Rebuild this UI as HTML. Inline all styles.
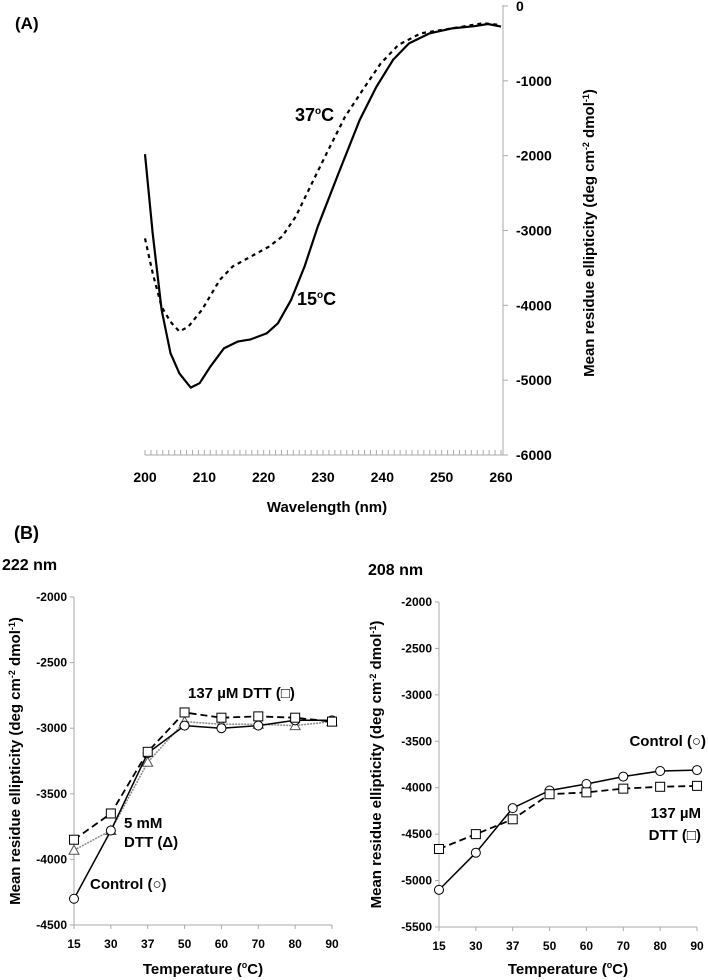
<!DOCTYPE html>
<html><head><meta charset="utf-8"><style>
html,body{margin:0;padding:0;background:#fff;}
svg{display:block;font-family:"Liberation Sans",Arial,sans-serif;font-weight:bold;}
</style></head><body>
<svg id="fig" width="708" height="980" viewBox="0 0 708 980" xmlns="http://www.w3.org/2000/svg">
<g id="pa"></g>
<g id="pb1"></g>
<g id="pb2"></g>
</svg>
<script>
// Panel A data
const wl15 = [200,201.3,202.8,204.3,205.8,207.7,209.2,211,213.3,215.6,217.8,220.5,222.4,224.6,226.9,229.1,232.6,236.2,239,241.8,244.5,248,251.7,255.5,257.8,260];
const mre15 = [-1980,-3040,-4060,-4640,-4910,-5100,-5040,-4820,-4575,-4485,-4455,-4375,-4240,-3930,-3480,-2950,-2240,-1520,-1080,-720,-500,-365,-300,-270,-240,-275];
const wl37 = [200,201.3,202.8,204.3,205.8,207.3,209.6,212.6,214.8,217.8,220.9,223.1,225.4,228.4,230.6,233.7,236.7,239.7,242.7,246.5,251.7,257,260];
const mre37 = [-3105,-3570,-4020,-4220,-4350,-4285,-4060,-3660,-3480,-3350,-3215,-3080,-2815,-2325,-1970,-1480,-1120,-770,-520,-365,-300,-230,-255];
const aXTicks = [200,210,220,230,240,250,260];
const aYTicks = [0,-1000,-2000,-3000,-4000,-5000,-6000];
// Panel B data
const temps = ["15","30","37","50","60","70","80","90"];
const b222Control = [-4300,-3780,-3190,-2980,-3000,-2980,-2940,-2940];
const b222Dtt137 = [-3850,-3650,-3180,-2880,-2920,-2910,-2920,-2950];
const b222Dtt5 = [-3930,-3780,-3260,-2950,-2970,-2970,-2980,-2950];
const b208Control = [-5100,-4700,-4220,-4030,-3960,-3880,-3820,-3810];
const b208Dtt137 = [-4660,-4500,-4340,-4070,-4050,-4010,-3990,-3980];
const b222YTicks = [-2000,-2500,-3000,-3500,-4000,-4500];
const b208YTicks = [-2000,-2500,-3000,-3500,-4000,-4500,-5000,-5500];

const NS="http://www.w3.org/2000/svg";
function mk(parent,tag,attrs,text){const e=document.createElementNS(NS,tag);for(const k in attrs)e.setAttribute(k,attrs[k]);if(text!==undefined)e.textContent=text;parent.appendChild(e);return e;}

// ---------- Panel A ----------
(function(){
  const g=document.getElementById('pa');
  const x=v=>145+(v-200)*(501-145)/60;
  const y=v=>6+(-v)*(455-6)/6000;
  const t=mk(g,'text',{x:15,y:29,'font-size':17},'(A)');
  
  
  const ax=mk(g,'line',{x1:145,y1:455,x2:503,y2:455,stroke:'#aaa','stroke-width':1});
  
  
  for(let w=200;w<=260;w++){
    const tk=mk(g,'line',{x1:x(w),y1:455,x2:x(w),y2:450,stroke:'#aaa','stroke-width':1});
    
    
  }
  const ay=mk(g,'line',{x1:503,y1:5,x2:503,y2:455,stroke:'#aaa','stroke-width':1});
  
  
  aXTicks.forEach(v=>{
    const l=mk(g,'text',{x:x(v),y:482,'font-size':14,'text-anchor':'middle'},String(v));
    
    
  });
  aYTicks.forEach(v=>{
    const tk=mk(g,'line',{x1:503,y1:y(v),x2:508,y2:y(v),stroke:'#aaa'});
    
    
    const l=mk(g,'text',{x:516,y:y(v)+5,'font-size':14},String(v));
    
    
  });
  const xt=mk(g,'text',{x:327,y:512,'font-size':15,'text-anchor':'middle'},'Wavelength (nm)');
  
  
  const yt=mk(g,'text',{x:0,y:0,'font-size':15,'text-anchor':'middle',transform:'translate(594,233) rotate(-90)'});
  
  
  yt.innerHTML='Mean residue ellipticity (deg cm<tspan dy="-5" font-size="9">-2</tspan><tspan dy="5"> dmol</tspan><tspan dy="-5" font-size="9">-1</tspan><tspan dy="5">)</tspan>';
  const p15=mk(g,'path',{d:wl15.map((w,i)=>(i?'L':'M')+x(w).toFixed(1)+','+y(mre15[i]).toFixed(1)).join(''),fill:'none',stroke:'#000','stroke-width':2.2,'stroke-linejoin':'round'});
  
  
  const p37=mk(g,'path',{d:wl37.map((w,i)=>(i?'L':'M')+x(w).toFixed(1)+','+y(mre37[i]).toFixed(1)).join(''),fill:'none',stroke:'#000','stroke-width':2.2,'stroke-dasharray':'4,4'});
  
  
  const l37=mk(g,'text',{x:295,y:121,'font-size':18});
  l37.innerHTML='37<tspan dy="-7" font-size="10">o</tspan><tspan dy="7">C</tspan>';
  
  
  const l15=mk(g,'text',{x:297,y:305,'font-size':18});
  l15.innerHTML='15<tspan dy="-7" font-size="10">o</tspan><tspan dy="7">C</tspan>';
  
  
})();

// ---------- Panel B helper ----------
function panelB(g,cfg){
  const x=i=>cfg.x0+i*(cfg.x1-cfg.x0)/(temps.length-1);
  const y=v=>cfg.yTop+(cfg.yMax-v)*(cfg.yBot-cfg.yTop)/(cfg.yMax-cfg.yMin);
  const ay=mk(g,'line',{x1:cfg.x0,y1:cfg.yTop,x2:cfg.x0,y2:cfg.yBot,stroke:'#aaa'});
  
  
  const ax=mk(g,'line',{x1:cfg.x0,y1:cfg.yBot,x2:cfg.x1,y2:cfg.yBot,stroke:'#aaa'});
  
  
  cfg.yTicks.forEach(v=>{
    const tk=mk(g,'line',{x1:cfg.x0-4,y1:y(v),x2:cfg.x0,y2:y(v),stroke:'#aaa'});
    
    
    const l=mk(g,'text',{x:cfg.x0-7,y:y(v)+4,'font-size':12,'text-anchor':'end'},String(v));
    
    
  });
  temps.forEach((c,i)=>{
    const tk=mk(g,'line',{x1:x(i),y1:cfg.yBot,x2:x(i),y2:cfg.yBot+4,stroke:'#aaa'});
    
    
    const l=mk(g,'text',{x:x(i),y:cfg.yBot+23,'font-size':12,'text-anchor':'middle'},c);
    
    
  });
  const xt=mk(g,'text',{x:(cfg.x0+cfg.x1)/2,y:974,'font-size':15,'text-anchor':'middle'});
  xt.innerHTML='Temperature (<tspan dy="-6" font-size="9">o</tspan><tspan dy="6">C)</tspan>';
  
  
  const yt=mk(g,'text',{x:0,y:0,'font-size':15,'text-anchor':'middle',transform:'translate('+cfg.ytx+','+((cfg.yTop+cfg.yBot)/2)+') rotate(-90)'});
  yt.innerHTML='Mean residue ellipticity (deg cm<tspan dy="-5" font-size="9">-2</tspan><tspan dy="5"> dmol</tspan><tspan dy="-5" font-size="9">-1</tspan><tspan dy="5">)</tspan>';
  
  
  const t=mk(g,'text',{x:cfg.tx,y:cfg.ty,'font-size':16},cfg.title);
  
  
  cfg.series.forEach(s=>{
    const p=mk(g,'path',{d:s.vals.map((v,i)=>(i?'L':'M')+x(i).toFixed(1)+','+y(v).toFixed(1)).join(''),fill:'none',stroke:s.color,'stroke-width':s.w});
    if(s.dash)p.setAttribute('stroke-dasharray',s.dash);
    
    
    s.vals.forEach((v,i)=>{
      let m;
      if(s.marker==='circle')m=mk(g,'circle',{cx:x(i),cy:y(v),r:4.5,fill:'#fff',stroke:'#000','stroke-width':1});
      else if(s.marker==='square')m=mk(g,'rect',{x:x(i)-4.5,y:y(v)-4.5,width:9,height:9,fill:'#fff',stroke:'#000','stroke-width':1});
      else {const cx=x(i),cy=y(v);m=mk(g,'polygon',{points:(cx)+','+(cy-5)+' '+(cx+5)+','+(cy+4)+' '+(cx-5)+','+(cy+4),fill:'#fff',stroke:'#555','stroke-width':1});}
      
      
    });
  });
  cfg.labels.forEach(L=>{
    const l=mk(g,'text',{x:L.x,y:L.y,'font-size':15,'text-anchor':L.anchor||'start'},L.t);
    
    
  });
}

const pb1=document.getElementById('pb1');
const bl=mk(pb1,'text',{x:14,y:539,'font-size':18},'(B)');


panelB(pb1,{x0:74,x1:332,yTop:597,yBot:925,yMax:-2000,yMin:-4500,yTicks:b222YTicks,ytx:20,title:'222 nm',tx:2,ty:570,
  series:[
    {name:'dtt-5mm',vals:b222Dtt5,color:'#888',w:1.5,dash:'2,1',marker:'triangle'},
    {name:'control',vals:b222Control,color:'#000',w:1.5,marker:'circle'},
    {name:'dtt-137um',vals:b222Dtt137,color:'#000',w:1.8,dash:'7,4',marker:'square'}
  ],
  labels:[
    {t:'137 µM DTT (□)',x:188,y:698,name:'label-dtt-137um'},
    {t:'5 mM',x:124,y:828,name:'label-dtt-5mm'},
    {t:'DTT (Δ)',x:124,y:847,name:'label-dtt-5mm-2'},
    {t:'Control (○)',x:90,y:889,name:'label-control'}
  ]});
panelB(document.getElementById('pb2'),{x0:439,x1:697,yTop:602,yBot:927,yMax:-2000,yMin:-5500,yTicks:b208YTicks,ytx:381,title:'208 nm',tx:368,ty:575,
  series:[
    {name:'control',vals:b208Control,color:'#000',w:1.5,marker:'circle'},
    {name:'dtt-137um',vals:b208Dtt137,color:'#000',w:1.8,dash:'7,4',marker:'square'}
  ],
  labels:[
    {t:'Control (○)',x:706,y:746,anchor:'end',name:'label-control'},
    {t:'137 µM',x:701,y:818,anchor:'end',name:'label-dtt-137um'},
    {t:'DTT (□)',x:701,y:840,anchor:'end',name:'label-dtt-137um-2'}
  ]});
</script>
</body></html>
